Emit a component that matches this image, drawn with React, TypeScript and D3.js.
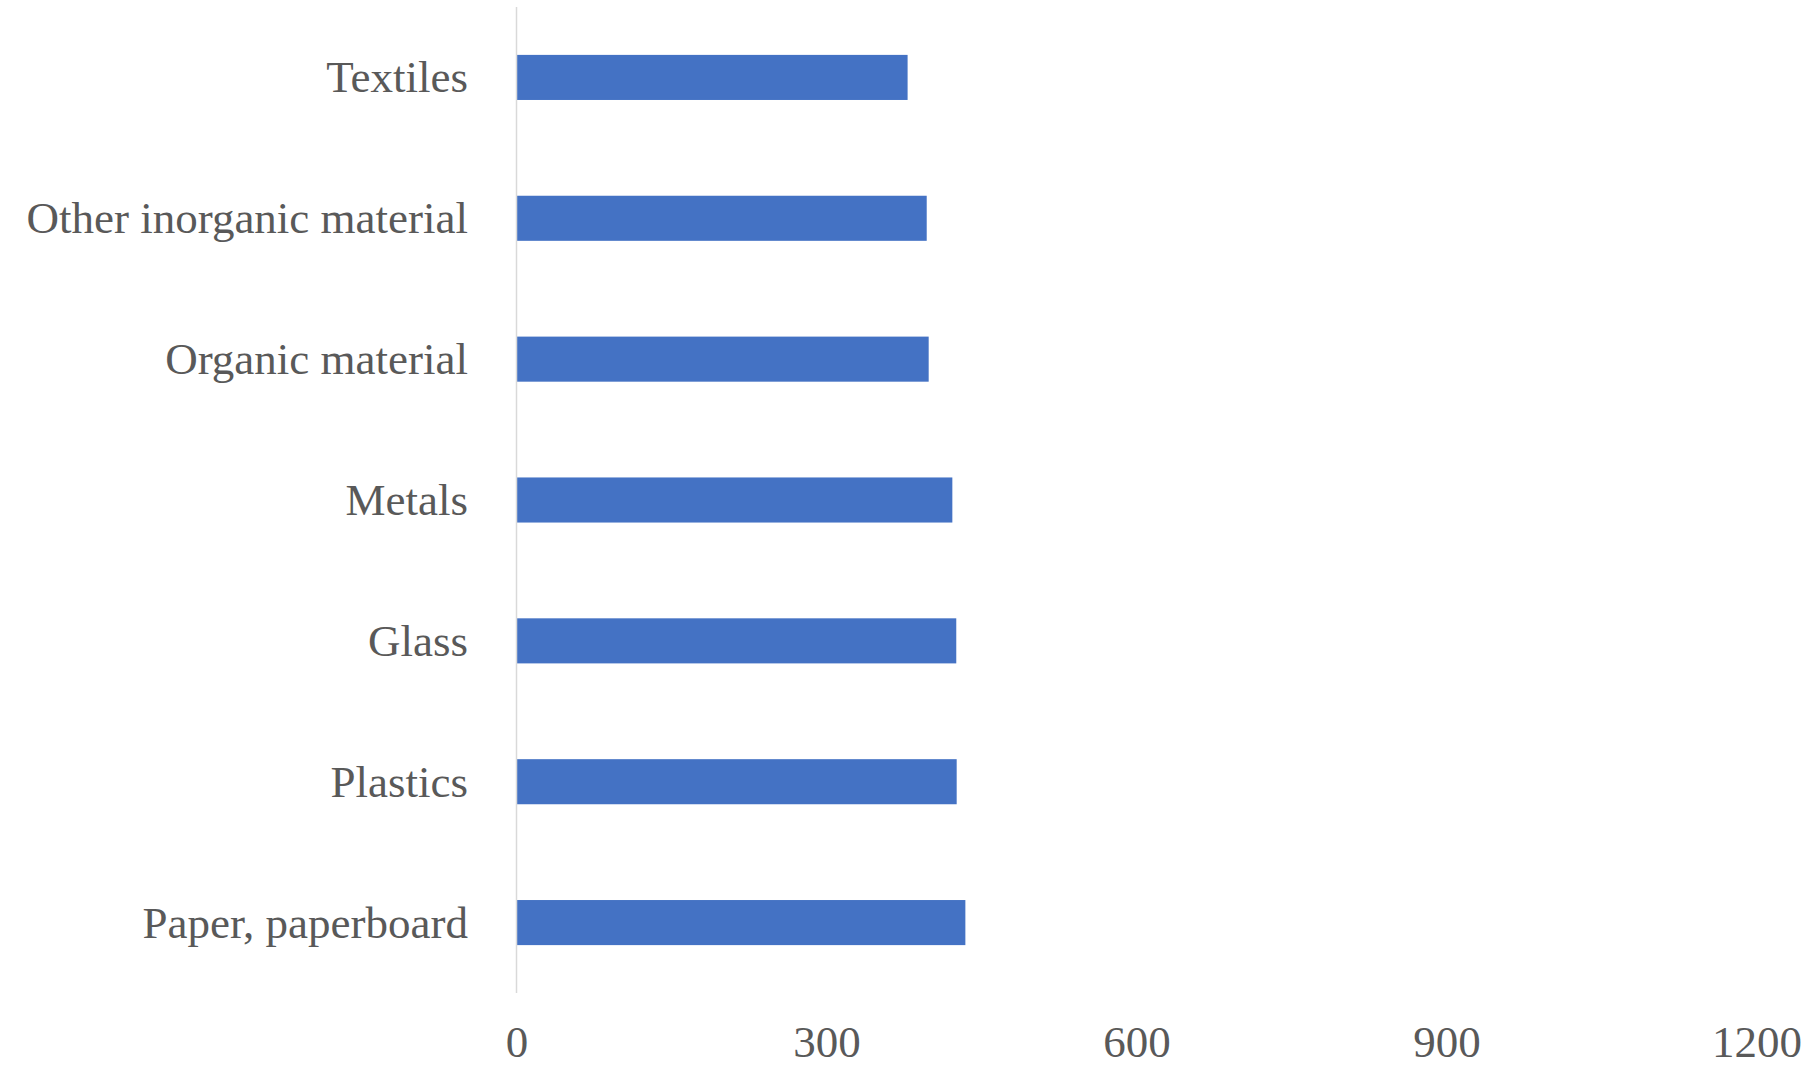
import React from "react";
import * as d3 from "d3";

const categories = [
  "Textiles",
  "Other inorganic material",
  "Organic material",
  "Metals",
  "Glass",
  "Plastics",
  "Paper, paperboard",
];
const values = [378, 396.5, 398.4, 421.3, 425.1, 425.5, 433.9];
const xTicks = [0, 300, 600, 900, 1200];

const W = 1814;
const H = 1068;
const margin = { left: 517, right: 57, top: 7, bottom: 75 };

export default function App() {
  const x = d3
    .scaleLinear()
    .domain([0, 1200])
    .range([margin.left, W - margin.right]);
  const y = d3
    .scaleBand<string>()
    .domain(categories)
    .range([margin.top, H - margin.bottom])
    .paddingInner(0.68)
    .paddingOuter(0.34);

  const font = "'Liberation Serif', 'Times New Roman', serif";
  const textColor = "#595959";

  return (
    <svg
      width={W}
      height={H}
      style={{ position: "absolute", left: 0, top: 0, background: "#fff" }}
    >
      <rect x={0} y={0} width={W} height={H} fill="#fff" />
      {categories.map((c, i) => (
        <rect
          key={c}
          x={x(0)}
          y={y(c)!}
          width={x(values[i]) - x(0)}
          height={y.bandwidth()}
          fill="#4472C4"
        />
      ))}
      <line
        x1={x(0) - 0.5}
        x2={x(0) - 0.5}
        y1={margin.top}
        y2={H - margin.bottom}
        stroke="#d9d9d9"
        strokeWidth={1.5}
      />
      {categories.map((c) => (
        <text
          key={c}
          x={468}
          y={y(c)! + y.bandwidth() / 2 + 15}
          textAnchor="end"
          fontFamily={font}
          fontSize={45}
          fill={textColor}
        >
          {c}
        </text>
      ))}
      {xTicks.map((t) => (
        <text
          key={t}
          x={x(t)}
          y={1057}
          textAnchor="middle"
          fontFamily={font}
          fontSize={45}
          fill={textColor}
        >
          {t}
        </text>
      ))}
    </svg>
  );
}
